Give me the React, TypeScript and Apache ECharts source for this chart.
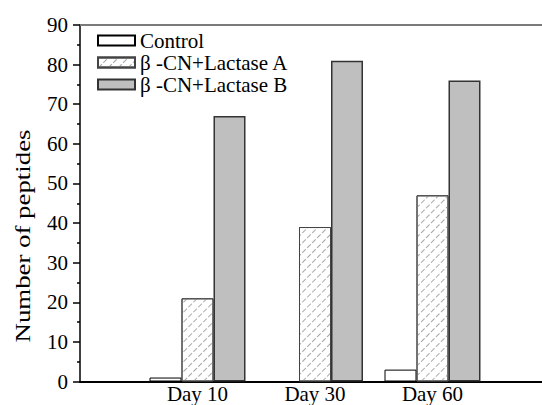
import React, { useEffect, useRef } from "react";
import * as echarts from "echarts";

const categories = ["", "Day 10", "Day 30", "Day 60", ""];
const seriesNames = ["Control", "β -CN+Lactase A", "β -CN+Lactase B"];
const controlValues = ["-", 1, 0, 3, "-"];
const lactaseAValues = ["-", 21, 39, 47, "-"];
const lactaseBValues = ["-", 67, 81, 76, "-"];
const yTicks = { min: 0, max: 90, interval: 10 };
const yTitle = "Number of peptides";

const FONT = "'Liberation Serif', 'Times New Roman', serif";

export default function App() {
  const ref = useRef<HTMLDivElement>(null);
  useEffect(() => {
    if (!ref.current) return;
    const chart = echarts.init(ref.current, undefined, { renderer: "svg" });
    chart.setOption({
      animation: false,
      backgroundColor: "#fff",
      textStyle: { fontFamily: FONT },
      grid: {
        left: 80,
        top: 25,
        width: 470,
        bottom: 23.5,
        containLabel: false,
        outerBoundsMode: "none",
      },
      legend: {
        orient: "vertical",
        left: 97,
        top: 30,
        padding: 0,
        itemWidth: 37,
        itemHeight: 10,
        itemGap: 1,
        icon: "rect",
        textStyle: { fontFamily: FONT, fontSize: 21, color: "#000", lineHeight: 20 },
        data: seriesNames,
      },
      xAxis: {
        type: "category",
        data: categories,
        boundaryGap: false,
        axisLine: { lineStyle: { color: "#000", width: 2 } },
        axisTick: { show: false },
        axisLabel: {
          fontFamily: FONT,
          fontSize: 21,
          lineHeight: 20,
          color: "#000",
          margin: 2,
          interval: 0,
        },
      },
      yAxis: {
        type: "value",
        min: yTicks.min,
        max: yTicks.max,
        interval: yTicks.interval,
        axisLine: { show: true, lineStyle: { color: "#000", width: 1.5 } },
        axisTick: { show: true, inside: false, length: 7, lineStyle: { color: "#000", width: 1.5 } },
        minorTick: { show: true, splitNumber: 2, length: 3, lineStyle: { color: "#000", width: 1.5 } },
        splitLine: { show: false },
        axisLabel: { fontFamily: FONT, fontSize: 21, color: "#000", margin: 12 },
      },
      graphic: [
        {
          type: "rect",
          z: 100,
          shape: { x: 80, y: 24, width: 462, height: 2 },
          style: { fill: "#7a7a7a" },
        },
        {
          type: "text",
          x: 22,
          y: 236,
          rotation: Math.PI / 2,
          scaleX: 1.22,
          style: {
            text: yTitle,
            fontFamily: FONT,
            fontSize: 22,
            fill: "#000",
            align: "center",
            verticalAlign: "middle",
          },
        },
      ],
      series: [
        {
          name: seriesNames[0],
          type: "bar",
          data: controlValues,
          barWidth: 32,
          barGap: "0%",
          itemStyle: { color: "#fff", borderColor: "#000", borderWidth: 1 },
        },
        {
          name: seriesNames[1],
          type: "bar",
          data: lactaseAValues,
          barWidth: 32,
          barGap: "0%",
          itemStyle: {
            color: "#fff",
            borderColor: "#444",
            borderWidth: 1,
            decal: {
              symbol: "rect",
              symbolSize: 1,
              dashArrayX: [5, 2],
              dashArrayY: [1, 6],
              rotation: -Math.PI / 4,
              color: "#a8a8a8",
            },
          },
        },
        {
          name: seriesNames[2],
          type: "bar",
          data: lactaseBValues,
          barWidth: 32,
          barGap: "0%",
          itemStyle: { color: "#bfbfbf", borderColor: "#333", borderWidth: 1.5 },
        },
      ],
    });
    return () => chart.dispose();
  }, []);
  return (
    <div
      ref={ref}
      style={{ position: "fixed", left: 0, top: 0, width: 542, height: 405, background: "#fff" }}
    />
  );
}
